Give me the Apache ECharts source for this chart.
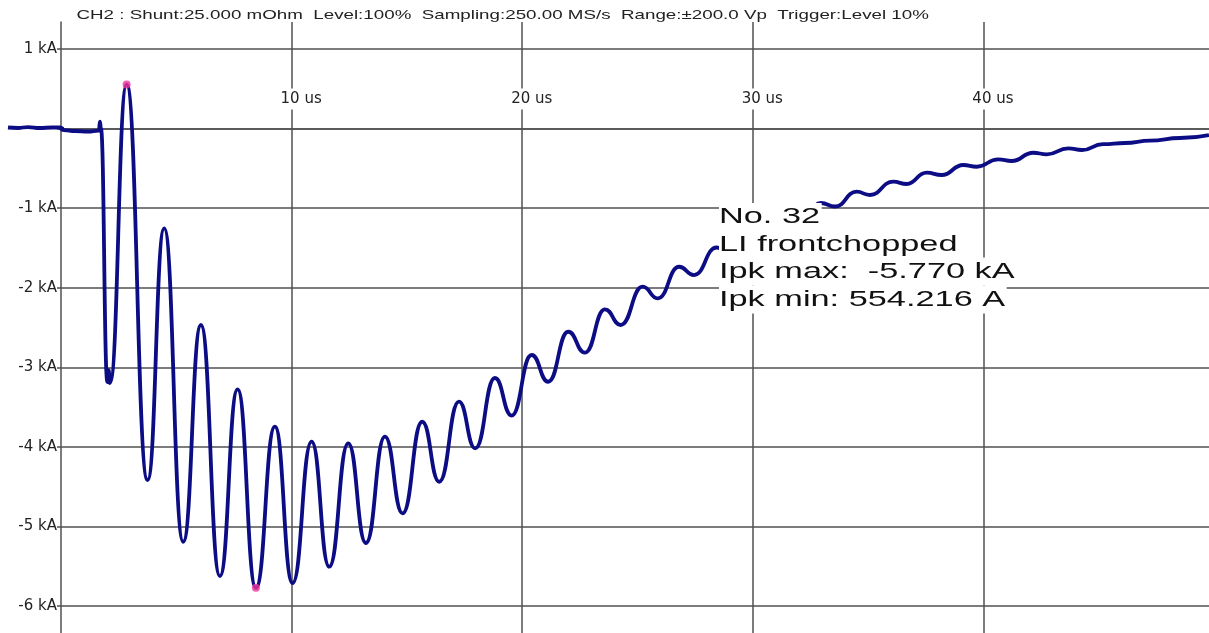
<!DOCTYPE html>
<html>
<head>
<meta charset="utf-8">
<script src="https://cdn.jsdelivr.net/npm/echarts@6/dist/echarts.min.js"></script>
<style>
html,body{margin:0;padding:0;background:#fff;}
#chart{width:1209px;height:633px;}
</style>
</head>
<body>
<div id="chart"></div>
<script>
// Time (microseconds) of each traced point of the waveform
const timeUs = [
  -2.303,-1.869,-1.435,-0.915,-0.395,-0.048,0.126,0.603,1.167,1.644,1.687,1.730,2.012,2.064,2.121,
  2.845,3.755,4.475,5.299,6.067,6.891,7.658,8.452,9.276,10.043,10.867,11.631,12.455,13.222,14.046,14.814,15.664,16.401,
  17.255,17.962,18.816,19.540,20.408,21.127,21.995,22.719,23.587,24.267,25.221,25.872,26.808,27.446,28.430,29.050,29.961,
  30.611,31.479,32.129,32.953,33.560,34.501,35.078,36.088,36.669,37.537,38.188,39.124,39.705,40.642,41.223,42.160,42.741,
  43.678,44.272,45.182,46.137,47.221,48.522,49.779
];
// Current (kA) at each traced point
const currentKA = [
  0.014,0.008,0.020,0.008,0.014,0.014,-0.018,-0.030,-0.036,-0.024,0.089,0.008,-3.185,-3.034,-3.197,
  0.554,-4.416,-1.253,-5.192,-2.468,-5.623,-3.276,-5.770,-3.746,-5.711,-3.935,-5.506,-3.955,-5.208,-3.870,-4.835,-3.684,-4.438,
  -3.432,-4.018,-3.134,-3.606,-2.845,-3.181,-2.553,-2.816,-2.271,-2.468,-1.987,-2.133,-1.736,-1.840,-1.494,-1.551,-1.249,
  -1.312,-1.086,-1.136,-0.935,-0.979,-0.793,-0.834,-0.667,-0.696,-0.554,-0.583,-0.457,-0.479,-0.386,-0.407,-0.303,-0.323,
  -0.248,-0.269,-0.194,-0.181,-0.152,-0.118,-0.080
];
// Peak markers (max / min)
const markerTimeUs = [2.845, 8.452];
const markerKA = [0.554216, -5.770];
// Tick labels
const xTickLabelsUs = [10, 20, 30, 40];
const yTickLabelsKA = [1, -1, -2, -3, -4, -5, -6];
// Texts
const headerText = 'CH2 : Shunt:25.000 mOhm  Level:100%  Sampling:250.00 MS/s  Range:\u00b1200.0 Vp  Trigger:Level 10%';
const noteLines = ['No. 32', 'LI frontchopped', 'Ipk max:  -5.770 kA', 'Ipk min: 554.216 A'];

const gridColor = '#505050';
const Y_MIN = -6.339, Y_MAX = 1.34, X_MAX = 49.78, X_PRE = -2.303;
const GRID_TOP = 22, PLOT_H = 611;
const zeroOffset = -(Y_MAX / (Y_MAX - Y_MIN)) * PLOT_H; // puts the time axis on the 0 kA line

const lineData = timeUs.map((t, i) => [t, currentKA[i]]);
const preData = lineData.filter(p => p[0] <= 0.2);
const mainData = lineData.filter(p => p[0] >= -0.1);
const markerData = markerTimeUs.map((t, i) => [t, markerKA[i]]);

const noteY = [217, 244.5, 271.5, 299.5];
const noteElements = noteLines.map((txt, i) => ({
  type: 'text', x: 719, y: noteY[i], scaleX: 1.56, z: 100,
  style: {
    text: txt, fontSize: 22, fontFamily: '"Liberation Sans", Arial, sans-serif', fill: '#111',
    align: 'left', textAlign: 'left', verticalAlign: 'middle', textVerticalAlign: 'middle',
    backgroundColor: '#fff', padding: [3, 1, 3, 0]
  }
}));

const lineStyle = {color: '#0c0c84', width: 3.8};

const chart = echarts.init(document.getElementById('chart'), null, {renderer: 'canvas'});
chart.setOption({
  animation: false,
  backgroundColor: '#fff',
  grid: [
    {left: 61, right: 0, top: GRID_TOP, height: PLOT_H, containLabel: false, outerBoundsMode: 'none'},
    {left: 8, width: 53, top: GRID_TOP, height: PLOT_H, containLabel: false, outerBoundsMode: 'none'}
  ],
  xAxis: [{
    type: 'value', gridIndex: 0, min: 0, max: X_MAX, minInterval: 10, maxInterval: 10,
    position: 'top', offset: zeroOffset,
    axisLine: {show: true, onZero: false, lineStyle: {color: gridColor, width: 1.5}},
    axisTick: {show: false},
    axisLabel: {
      show: true, margin: 19, showMinLabel: false, showMaxLabel: false,
      formatter: v => xTickLabelsUs.includes(v) ? v + ' us' : '',
      fontFamily: 'DejaVu Sans', fontSize: 15, color: '#222',
      backgroundColor: '#fff', padding: [3, 0, 3, 19]
    },
    splitLine: {show: true, showMinLine: false, showMaxLine: false, lineStyle: {color: gridColor, width: 1.5}}
  }, {
    type: 'value', gridIndex: 1, min: X_PRE, max: 0, show: false
  }],
  yAxis: [{
    type: 'value', gridIndex: 0, min: Y_MIN, max: Y_MAX, minInterval: 1, maxInterval: 1, position: 'left',
    axisLine: {show: true, onZero: false, lineStyle: {color: gridColor, width: 1.5}},
    axisTick: {show: true, length: 4, lineStyle: {color: gridColor, width: 1.5}},
    axisLabel: {
      margin: 4, showMinLabel: false, showMaxLabel: false,
      formatter: v => yTickLabelsKA.includes(v) ? v + ' kA' : '',
      fontFamily: 'DejaVu Sans', fontSize: 15, color: '#222'
    },
    splitLine: {show: true, showMinLine: false, showMaxLine: false, lineStyle: {color: gridColor, width: 1.5}}
  }, {
    type: 'value', gridIndex: 1, min: Y_MIN, max: Y_MAX, show: false
  }],
  series: [
    {
      type: 'line', xAxisIndex: 1, yAxisIndex: 1, data: preData, clip: true,
      smooth: 0.5, smoothMonotone: 'x', showSymbol: false, symbol: 'none', z: 3, lineStyle: lineStyle
    },
    {
      type: 'line', xAxisIndex: 0, yAxisIndex: 0, data: mainData, clip: true,
      smooth: 0.5, smoothMonotone: 'x', showSymbol: false, symbol: 'none', z: 3, lineStyle: lineStyle
    },
    {
      type: 'scatter', xAxisIndex: 0, yAxisIndex: 0, data: markerData, symbolSize: 8, z: 4,
      itemStyle: {color: '#f0329b'}
    }
  ],
  graphic: {
    elements: [
      {
        type: 'text', x: 76.5, y: 15.5, scaleX: 1.39, z: 100,
        style: {
          text: headerText, fontSize: 13.5, fontFamily: '"Liberation Sans", Arial, sans-serif', fill: '#222',
          align: 'left', textAlign: 'left', verticalAlign: 'middle', textVerticalAlign: 'middle'
        }
      }
    ].concat(noteElements)
  }
});
</script>
</body>
</html>
